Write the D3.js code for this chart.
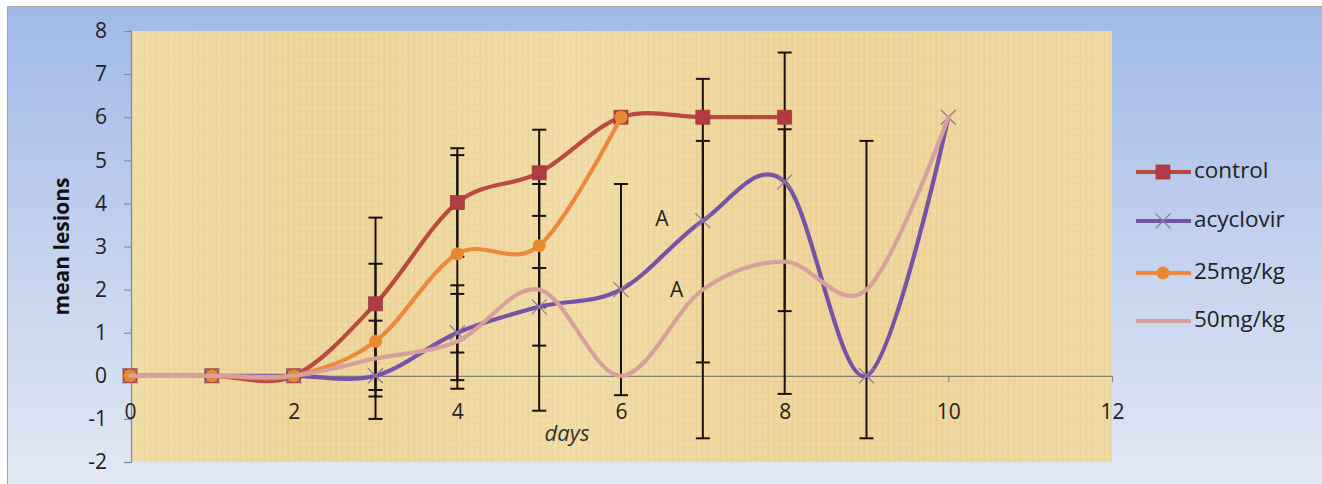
<!DOCTYPE html>
<html><head><meta charset="utf-8">
<script src="https://cdn.jsdelivr.net/npm/d3@7"></script>
<style>html,body{margin:0;padding:0;background:#fff;}svg{display:block;}</style>
</head><body>
<svg id="chart" width="1322" height="484"></svg>
<script>
// ---- data ----
const days = [0,1,2,3,4,5,6,7,8,9,10];
const control    = [0,0,0,1.67,4.02,4.71,6,6,6];
const controlErr = [0,0,0,2.0,1.26,1.0,0,0,0];
const acyclovir    = [0,0,0,0,1.0,1.6,2.0,3.6,4.5,0,6];
const acyclovirErr = [0,0,0,0,1.1,0.9,2.45,3.29,3.0,0,0];
const mg25    = [0,0,0,0.8,2.83,3.02,6];
const mg25Err = [0,0,0,1.8,2.29,1.43,0];
const mg50    = [0,0,0,0.4,0.8,2.0,0,2.0,2.65,2.0,6];
const mg50Err = [0,0,0,0.88,1.1,2.81,0,3.45,3.07,3.45,0];
const seriesNames = ["control","acyclovir","25mg/kg","50mg/kg"];
const xTicks = [0,2,4,6,8,10,12];
const yTicks = [-2,-1,0,1,2,3,4,5,6,7,8];
const annotations = [{x:6.5, y:3.6, t:"A"},{x:6.68, y:1.95, t:"A"}];

const svg = d3.select("#chart");
const defs = svg.append("defs");
const bg = defs.append("linearGradient").attr("id","bg").attr("x1",0).attr("y1",0).attr("x2",0).attr("y2",1);
bg.append("stop").attr("offset","0%").attr("stop-color","#a0b9e7");
bg.append("stop").attr("offset","55%").attr("stop-color","#c6d4ee");
bg.append("stop").attr("offset","100%").attr("stop-color","#e2e8f4");

// papyrus-like texture
const pat = defs.append("pattern").attr("id","pap").attr("patternUnits","userSpaceOnUse").attr("width",6).attr("height",6);
pat.append("rect").attr("width",6).attr("height",6).attr("fill","#f0d9a0");
pat.append("rect").attr("x",0).attr("y",0).attr("width",1).attr("height",6).attr("fill","#e0c487").attr("opacity",0.55);
pat.append("rect").attr("x",0).attr("y",3).attr("width",6).attr("height",1).attr("fill","#e3c98e").attr("opacity",0.45);
const pat2 = defs.append("linearGradient").attr("id","papShade").attr("x1",0).attr("y1",0).attr("x2",1).attr("y2",0);
[["0%","#f6e6b8",0.35],["20%","#e9cf90",0.2],["45%","#f7e8bd",0.3],["70%","#e7cd8f",0.2],["100%","#f3e0ad",0.3]].forEach(s=>
  pat2.append("stop").attr("offset",s[0]).attr("stop-color",s[1]).attr("stop-opacity",s[2]));

svg.append("rect").attr("x",0).attr("y",0).attr("width",1322).attr("height",484).attr("fill","#ffffff");
svg.append("rect").attr("x",7.5).attr("y",6.5).attr("width",1320).attr("height",480)
  .attr("fill","url(#bg)").attr("stroke","#a6a6a6").attr("stroke-width",1);

const x = d3.scaleLinear().domain([0,12]).range([130,1112]);
const y = d3.scaleLinear().domain([-2,8]).range([462,31]);

svg.append("rect").attr("x",131).attr("y",31).attr("width",1112-131).attr("height",462-31).attr("fill","url(#pap)");
svg.append("rect").attr("x",131).attr("y",31).attr("width",1112-131).attr("height",462-31).attr("fill","url(#papShade)");

const font = "'Open Sans', 'DejaVu Sans', sans-serif";
const fs = 21;
const txt = "#222";

// y axis
const yAxis = svg.append("g").attr("transform","translate(131,0)")
  .call(d3.axisLeft(y).tickValues(yTicks).tickSize(7).tickPadding(17).tickFormat(d=>String(d)));
yAxis.select(".domain").attr("stroke","#7d8aa6").attr("stroke-width",1.2);
yAxis.selectAll(".tick line").attr("stroke","#7d8aa6").attr("stroke-width",1.2);
yAxis.selectAll("text").attr("font-family",font).attr("font-size",fs).attr("fill",txt);

// x axis at y=0
const xAxis = svg.append("g").attr("transform",`translate(0,${y(0)})`)
  .call(d3.axisBottom(x).tickValues(xTicks).tickSize(6).tickSizeOuter(0).tickFormat(d=>String(d)));
xAxis.select(".domain").attr("stroke","#858275").attr("stroke-width",1.2);
xAxis.selectAll(".tick line").attr("stroke","#858275").attr("stroke-width",1.2);
xAxis.selectAll("text").attr("font-family",font).attr("font-size",fs).attr("fill",txt)
  .attr("y",null).attr("dy",null).attr("transform",`translate(0,${y(-0.88)-y(0)})`).attr("dominant-baseline","middle");

svg.append("text").attr("x",567).attr("y",y(-1.38)).attr("text-anchor","middle").attr("dominant-baseline","middle")
  .attr("font-family",font).attr("font-style","italic").attr("font-size",22).attr("fill","#333").text("days");
svg.append("text").attr("transform",`translate(69,${y(3.0)}) rotate(-90)`).attr("text-anchor","middle")
  .attr("font-family",font).attr("font-weight","bold").attr("font-size",21).attr("fill","#111").text("mean lesions");

const curve = d3.curveCardinal.tension(0);
const mk = (vals, errs) => vals.map((v,i)=>({d:days[i], v:v, e:errs[i]}));
const data = [
  {name:seriesNames[0], pts:mk(control,controlErr), color:"#b84a40", marker:"square", mfill:"#b23a44"},
  {name:seriesNames[1], pts:mk(acyclovir,acyclovirErr), color:"#7454a6", marker:"x", mfill:"#8d7b9b"},
  {name:seriesNames[2], pts:mk(mg25,mg25Err), color:"#ea8a3a", marker:"circle", mfill:"#e8892f"},
  {name:seriesNames[3], pts:mk(mg50,mg50Err), color:"#d6a09c", marker:"none", mfill:"#d6a09c"}
];

// error bars
const eg = svg.append("g").attr("stroke","#1a1010").attr("stroke-width",2);
data.forEach(s=>{
  s.pts.filter(p=>p.e>0).forEach(p=>{
    const cx = x(p.d);
    eg.append("line").attr("x1",cx).attr("x2",cx).attr("y1",y(p.v+p.e)).attr("y2",y(p.v-p.e));
    [p.v+p.e, p.v-p.e].forEach(t=>eg.append("line").attr("x1",cx-7).attr("x2",cx+7).attr("y1",y(t)).attr("y2",y(t)));
  });
});

const line = d3.line().x(p=>x(p.d)).y(p=>y(p.v)).curve(curve);
function drawMarker(g, type, cx, cy, fill){
  if(type==="square") g.append("rect").attr("x",cx-7).attr("y",cy-7).attr("width",14).attr("height",14).attr("fill",fill).attr("stroke","#a0403a").attr("stroke-width",0.8);
  else if(type==="circle") g.append("circle").attr("cx",cx).attr("cy",cy).attr("r",6.5).attr("fill",fill);
  else if(type==="x"){ const r=7.5; g.append("path").attr("d",`M${cx-r},${cy-r}L${cx+r},${cy+r}M${cx-r},${cy+r}L${cx+r},${cy-r}`).attr("stroke",fill).attr("stroke-width",1.3).attr("fill","none"); }
}
data.forEach(s=>{
  const g = svg.append("g");
  g.append("path").datum(s.pts).attr("d",line).attr("fill","none").attr("stroke",s.color).attr("stroke-width",4.2).attr("stroke-linecap","round");
  s.pts.forEach(p=>drawMarker(g, s.marker, x(p.d), y(p.v), s.mfill));
});

// annotations
annotations.forEach(a=>svg.append("text").attr("x",x(a.x)).attr("y",y(a.y)).attr("text-anchor","middle").attr("dominant-baseline","middle")
  .attr("font-family",font).attr("font-size",fs).attr("fill",txt).text(a.t));

// legend
const lg = svg.append("g").attr("transform","translate(1136,0)");
const legY = [172,221,273,321];
data.forEach((s,i)=>{
  const yy = legY[i];
  lg.append("line").attr("x1",0).attr("x2",55).attr("y1",yy).attr("y2",yy).attr("stroke",s.color).attr("stroke-width",4.2);
  drawMarker(lg, s.marker, 27, yy, s.mfill);
  lg.append("text").attr("x",58).attr("y",yy).attr("dominant-baseline","middle").attr("font-family",font).attr("font-size",22.5).attr("fill",txt).text(s.name);
});
</script>
</body></html>
